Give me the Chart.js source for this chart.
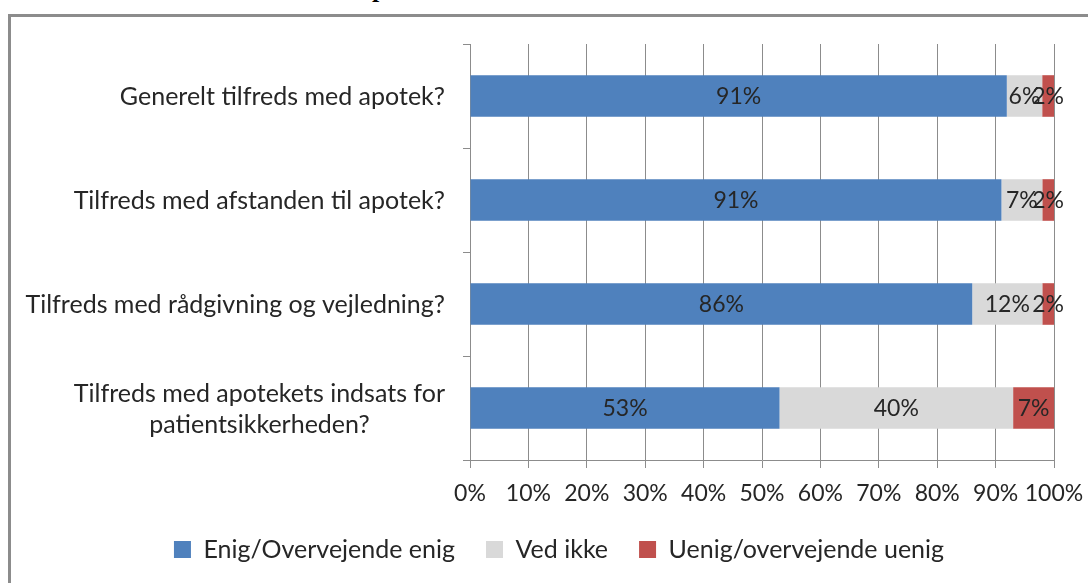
<!DOCTYPE html>
<html>
<head>
<meta charset="utf-8">
<script src="https://cdn.jsdelivr.net/npm/chart.js@4.4.0/dist/chart.umd.min.js"></script>
<style>
  html, body { margin: 0; padding: 0; background: #fff; overflow: hidden; }
  body { width: 1088px; height: 583px; position: relative; }
  #frame {
    position: absolute; left: 8px; top: 14px; width: 1200px; height: 700px;
    border-left: 3px solid #8c8c8c; border-top: 3px solid #8c8c8c;
  }
  #title {
    position: absolute; left: 372px; top: -26px;
    font: bold 26px "Liberation Serif", serif; color: #000;
  }
  #wrap { position: absolute; left: 15px; top: 0; width: 1088px; height: 583px; }
</style>
</head>
<body>
<div id="title">p</div>
<div id="frame"></div>
<div id="wrap"><canvas id="chart"></canvas></div>
<script>
// --- Data ---
const categories = [
  ["Generelt tilfreds med apotek?"],
  ["Tilfreds med afstanden til apotek?"],
  ["Tilfreds med rådgivning og vejledning?"],
  ["Tilfreds med apotekets indsats for", "patientsikkerheden?"]
];
const seriesNames = ["Enig/Overvejende enig", "Ved ikke", "Uenig/overvejende uenig"];
const enig = [91, 91, 86, 53];
const vedIkke = [6, 7, 12, 40];
const uenig = [2, 2, 2, 7];
const xTicks = [0, 10, 20, 30, 40, 50, 60, 70, 80, 90, 100];

const colors = ["#4f81bd", "#d9d9d9", "#c0504d"];
const FONT_FAMILY = "Lato, 'Open Sans', sans-serif";
const TEXT = "#262626";
const GRID = "#8c8c8c";

// 100% stacked: each row is scaled to its own total
const raw = [enig, vedIkke, uenig];
const totals = categories.map((_, i) => raw.reduce((s, arr) => s + arr[i], 0));
const pct = arr => arr.map((v, i) => v / totals[i] * 100);

// --- Plugins ---
// category labels: block right-aligned to the axis, lines centred inside it
const yLabels = {
  id: "yLabels",
  afterDraw(chart) {
    const { ctx, scales: { y } } = chart;
    ctx.save();
    ctx.font = "25px " + FONT_FAMILY;
    ctx.fillStyle = TEXT;
    ctx.textAlign = "center";
    ctx.textBaseline = "middle";
    const lineH = 31;
    categories.forEach((lines, i) => {
      const yc = y.getPixelForValue(i) + 1;
      const w = Math.max(...lines.map(l => ctx.measureText(l).width));
      const cx = y.right - 25 - w / 2;
      lines.forEach((l, j) => {
        ctx.fillText(l, cx, yc + (j - (lines.length - 1) / 2) * lineH);
      });
    });
    ctx.restore();
  }
};

const barLabels = {
  id: "barLabels",
  afterDatasetsDraw(chart) {
    const { ctx } = chart;
    ctx.save();
    ctx.font = "23px " + FONT_FAMILY;
    ctx.fillStyle = TEXT;
    ctx.textAlign = "center";
    ctx.textBaseline = "middle";
    raw.forEach((arr, di) => {
      chart.getDatasetMeta(di).data.forEach((bar, i) => {
        ctx.fillText(arr[i] + "%", (bar.x + bar.base) / 2, bar.y + 1);
      });
    });
    ctx.restore();
  }
};

// --- Chart ---
const ctx = document.getElementById("chart").getContext("2d");
new Chart(ctx, {
  type: "bar",
  data: {
    labels: categories.map(c => c.join(" ")),
    datasets: raw.map((arr, i) => ({
      label: seriesNames[i],
      data: pct(arr),
      backgroundColor: colors[i],
      borderWidth: 0,
      barPercentage: 0.4,
      categoryPercentage: 1
    }))
  },
  options: {
    indexAxis: "y",
    responsive: true,
    maintainAspectRatio: false,
    animation: false,
    layout: { padding: { top: 44, right: 49, left: 49, bottom: 11 } },
    scales: {
      x: {
        stacked: true,
        min: 0,
        max: 100,
        afterBuildTicks: s => { s.ticks = xTicks.map(v => ({ value: v })); },
        afterFit: s => { s.height = 46; },
        ticks: {
          callback: v => v + "%",
          autoSkip: false,
          font: { family: FONT_FAMILY, size: 23, lineHeight: 1 },
          color: TEXT,
          padding: 14,
          maxRotation: 0
        },
        grid: { color: GRID, tickLength: 8, drawTicks: true },
        border: { color: GRID, width: 1 }
      },
      y: {
        stacked: true,
        afterFit: s => { s.width = 406; },
        ticks: { display: false },
        grid: { offset: true, drawOnChartArea: false, color: GRID, tickLength: 7 },
        border: { color: GRID, width: 1 }
      }
    },
    plugins: {
      legend: {
        position: "bottom",
        labels: {
          boxWidth: 17,
          boxHeight: 17,
          padding: 31,
          color: TEXT,
          font: { family: FONT_FAMILY, size: 25, lineHeight: 1 }
        }
      },
      tooltip: { enabled: false }
    }
  },
  plugins: [yLabels, barLabels]
});
</script>
</body>
</html>
